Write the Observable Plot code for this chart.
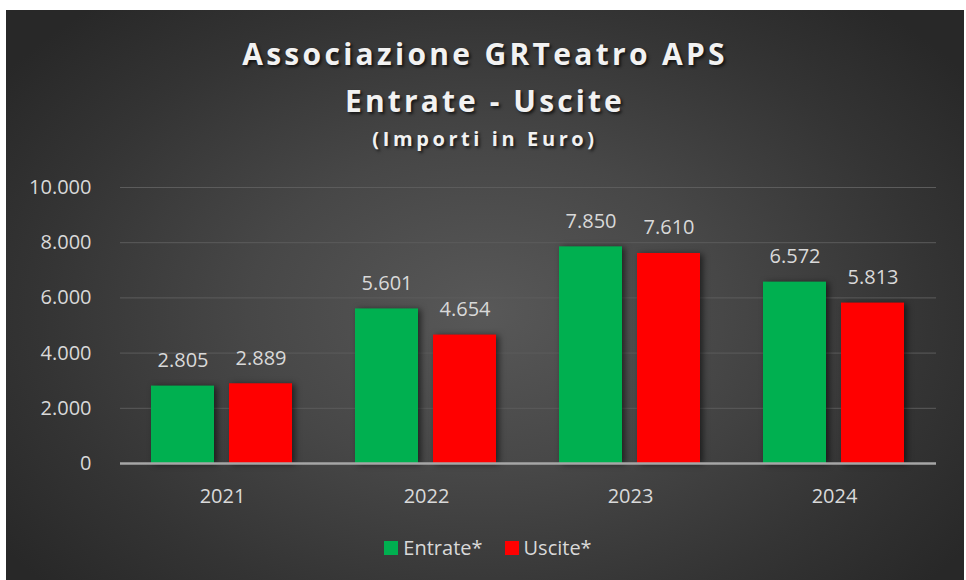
<!DOCTYPE html>
<html>
<head>
<meta charset="utf-8">
<script src="https://cdn.jsdelivr.net/npm/d3@7"></script>
<script src="https://cdn.jsdelivr.net/npm/@observablehq/plot@0.6"></script>
<style>
  html, body { margin: 0; padding: 0; background: #ffffff; }
  #page { position: relative; width: 966px; height: 580px; overflow: hidden; }
  #box {
    position: absolute; left: 6px; top: 10px; width: 958px; height: 580px;
    background: radial-gradient(ellipse 62% 70% at 50% 52%, #585858 0%, #474747 40%, #343434 75%, #282828 100%);
  }
  .title {
    position: absolute; left: 6px; width: 958px; text-align: center;
    font-family: "Open Sans", sans-serif; font-weight: 700; color: #f2f2f2;
    text-shadow: 2px 2px 3px rgba(0,0,0,0.65);
    white-space: nowrap;
  }
  #t1 { top: 34px; font-size: 30px; letter-spacing: 3.3px; line-height: 40px; }
  #t2 { top: 81px; font-size: 30px; letter-spacing: 3.1px; line-height: 40px; }
  #t3 { top: 125px; font-size: 20px; letter-spacing: 3.6px; line-height: 28px; }
  #chart { position: absolute; left: 0; top: 170px; }
  #legend {
    position: absolute; top: 534px; left: 0; width: 966px; display: flex; justify-content: center;
    font-family: "Open Sans", sans-serif; font-size: 20px; color: #d9d9d9; gap: 22px; padding-left: 10px; box-sizing: border-box;
  }
  .item { display: flex; align-items: center; gap: 5px; line-height: 28px; }
  .sw { width: 14px; height: 14px; display: inline-block; }
  .bars rect { filter: drop-shadow(3px 1px 3px rgba(0,0,0,0.55)); }
</style>
</head>
<body>
<div id="page">
  <div id="box"></div>
  <div class="title" id="t1">Associazione GRTeatro APS</div>
  <div class="title" id="t2">Entrate - Uscite</div>
  <div class="title" id="t3">(Importi in Euro)</div>
  <div id="chart"></div>
  <div id="legend"></div>
</div>
<script>
const years = ["2021", "2022", "2023", "2024"];
const series = ["Entrate*", "Uscite*"];
const entrate = [2805, 5601, 7850, 6572];
const uscite = [2889, 4654, 7610, 5813];
const yTicks = [0, 2000, 4000, 6000, 8000, 10000];
const colors = ["#00B050", "#FF0000"];

const data = [];
years.forEach((yr, i) => {
  data.push({year: yr, series: series[0], value: entrate[i]});
  data.push({year: yr, series: series[1], value: uscite[i]});
});

const it = d3.formatLocale({decimal: ",", thousands: ".", grouping: [3], currency: ["", " €"]});
const fmt = it.format(",d");

const chart = Plot.plot({
  width: 966,
  height: 350,
  marginLeft: 118,
  marginRight: 29,
  marginTop: 17,
  marginBottom: 57,
  style: {fontFamily: "Open Sans, sans-serif", fontSize: "20px", color: "#d9d9d9", background: "transparent", overflow: "visible"},
  fx: {domain: years, padding: 0, tickSize: 0, tickPadding: 25, label: null, axis: "bottom"},
  x: {domain: series, paddingInner: 0.19, paddingOuter: 0.39, axis: null},
  y: {domain: [0, 10000], ticks: yTicks, tickFormat: fmt, tickSize: 0, tickPadding: 29, label: null},
  color: {domain: series, range: colors},
  marks: [
    Plot.ruleY(yTicks.filter(d => d > 0), {stroke: "#5c5c5c", strokeWidth: 1}),
    Plot.barY(data, {fx: "year", x: "series", y: "value", fill: "series", className: "bars"}),
    Plot.ruleY([0], {stroke: "#a6a6a6", strokeWidth: 2.5}),
    Plot.text(data, {fx: "year", x: "series", y: "value", text: d => fmt(d.value), lineAnchor: "bottom", dy: -19, fill: "#d9d9d9", fontSize: 20})
  ]
});
document.getElementById("chart").appendChild(chart);

const legend = document.getElementById("legend");
series.forEach((s, i) => {
  const item = document.createElement("div");
  item.className = "item";
  const sw = document.createElement("span");
  sw.className = "sw";
  sw.style.background = colors[i];
  const lab = document.createElement("span");
  lab.textContent = s;
  item.appendChild(sw);
  item.appendChild(lab);
  legend.appendChild(item);
});
</script>
</body>
</html>
